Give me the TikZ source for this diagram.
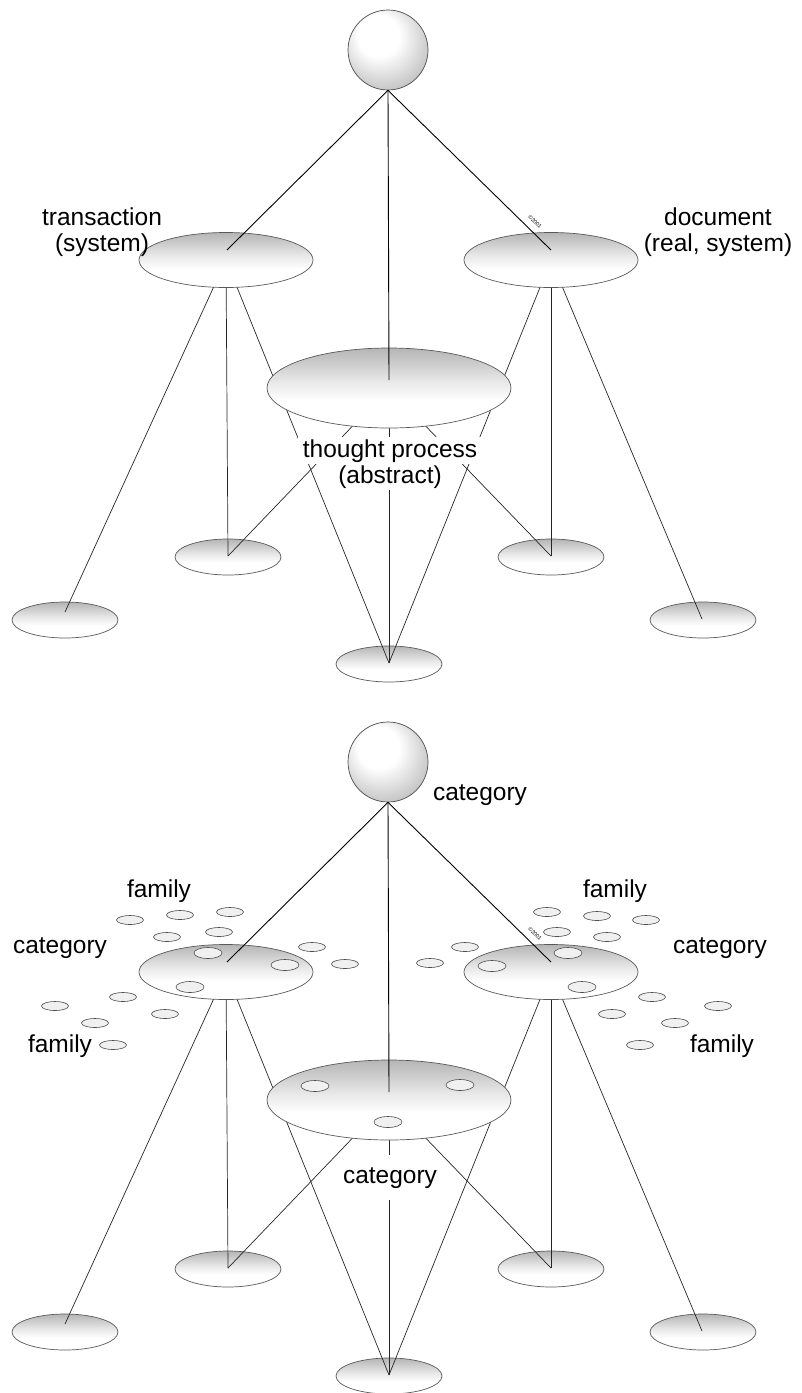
\documentclass[tikz,border=0pt]{standalone}
\usepackage{fontspec}
\setmainfont{Liberation Sans}
\usetikzlibrary{shapes.geometric}

% grey rim at the top of each disc, fading to white below the middle
\pgfdeclareverticalshading{discshade}{100bp}{color(0bp)=(white); color(25bp)=(white); color(42bp)=(white); color(54bp)=(gray!18); color(75bp)=(gray!58); color(100bp)=(gray!58)}
% sphere lit from the upper left
\pgfdeclareradialshading{sphereshade}{\pgfqpoint{-8bp}{12bp}}{color(0bp)=(white); color(13bp)=(white); color(30bp)=(gray!45); color(50bp)=(gray!55)}

\tikzset{
  disc/.style={ellipse, draw=black!65, line width=0.7pt, shading=discshade, inner sep=0pt},
  bigdisc/.style={disc, minimum width=174pt, minimum height=55pt},
  middisc/.style={disc, minimum width=244pt, minimum height=80pt},
  leaf/.style={disc, minimum width=106pt, minimum height=36pt},
  fam/.style={ellipse, draw=black!70, line width=0.6pt, fill=gray!12, inner sep=0pt, minimum width=27pt, minimum height=9pt},
  famon/.style={fam, minimum width=28pt, minimum height=11pt},
  orb/.style={circle, draw=black!70, line width=0.7pt, shading=sphereshade, minimum size=80pt, inner sep=0pt},
  stem/.style={black!85, line width=0.7pt},
  spoke/.style={black, line width=0.9pt},
  lbl/.style={font=\fontsize{24.5}{28}\selectfont, anchor=base, inner sep=0pt},
  cover/.style={lbl, fill=white, inner xsep=5pt, inner ysep=2pt},
  tiny/.style={font=\fontsize{5.5}{5.5}\selectfont, inner sep=0pt, rotate=-44.5},
}

% one complete net: leaves, stems, discs, sphere and spokes
\newcommand\netframe[2]{%
  \begin{scope}[shift={(0,#2)}]
    \node[leaf] (#1l1) at (65,620) {};
    \node[leaf] (#1l2) at (228,557) {};
    \node[leaf] (#1l3) at (389,664) {};
    \node[leaf] (#1l4) at (551,557) {};
    \node[leaf] (#1l5) at (703,620) {};
    \coordinate (#1e1) at (65,612);
    \coordinate (#1e2) at (228,556);
    \coordinate (#1e3) at (389,663);
    \coordinate (#1e4) at (551,556);
    \coordinate (#1e5) at (702,619);
    \coordinate (#1a) at (226,260);
    \coordinate (#1b) at (389,388);
    \coordinate (#1c) at (551,260);
    \draw[stem] (#1a) -- (#1e1);
    \draw[stem] (#1a) -- (#1e2);
    \draw[stem] (#1a) -- (#1e3);
    \draw[stem] (#1b) -- (#1e2);
    \draw[stem] (#1b) -- (#1e3);
    \draw[stem] (#1b) -- (#1e4);
    \draw[stem] (#1c) -- (#1e3);
    \draw[stem] (#1c) -- (#1e4);
    \draw[stem] (#1c) -- (#1e5);
    \node[bigdisc] (#1A) at (#1a) {};
    \node[middisc] (#1B) at (#1b) {};
    \node[bigdisc] (#1C) at (#1c) {};
    \node[orb] (#1top) at (388,50) {};
    \coordinate (#1p) at (227,250);
    \coordinate (#1q) at (389,380);
    \coordinate (#1r) at (551,250);
    \draw[spoke] (#1top.south) -- (#1p);
    \draw[spoke] (#1top.south) -- (#1q);
    \draw[spoke] (#1top.south) -- (#1r);
    \node[tiny] (#1copy) at (535,222) {©2001};
  \end{scope}}

\begin{document}
\begin{tikzpicture}[x=1pt, y=-1pt]
  \useasboundingbox (0,0) rectangle (801,1393);

  % ---------- upper net ----------
  \netframe{u}{0}
  \node[lbl] (utr1) at (102,225) {transaction};
  \node[lbl] (utr2) at (102,251) {(system)};
  \node[lbl] (udoc1) at (718,225) {document};
  \node[lbl] (udoc2) at (718,251) {(real, system)};
  \node[cover] (uth1) at (390,457) {thought process};
  \node[cover] (uth2) at (390,483) {(abstract)};

  % ---------- lower net ----------
  \netframe{d}{712}
  \node[lbl] (dcat0) at (480,800) {category};
  \node[lbl] (dfamL) at (159,897) {family};
  \node[lbl] (dfamR) at (615,897) {family};
  \node[lbl] (dcatL) at (60,953) {category};
  \node[lbl] (dcatR) at (720,953) {category};
  \node[lbl] (dfamLL) at (60,1052) {family};
  \node[lbl] (dfamRR) at (722,1052) {family};
  \node[cover, inner ysep=12pt] (dcatM) at (390,1183) {category};

  % families around the left disc
  \foreach \x/\y [count=\i] in {130/920, 180/915, 230/912, 167/937, 219/932, 312/947, 345/964,
      123/997, 55/1006, 165/1014, 95/1023, 113/1045}
    \node[fam] (fl\i) at (\x,\y) {};
  \foreach \x/\y [count=\i] in {208/953, 285/965, 190/987}
    \node[famon] (flo\i) at (\x,\y) {};
  % families around the right disc
  \foreach \x/\y [count=\i] in {547/912, 597/916, 646/920, 557/932, 607/937, 465/947, 430/963,
      652/997, 718/1006, 612/1014, 675/1023, 640/1045}
    \node[fam] (fr\i) at (\x,\y) {};
  \foreach \x/\y [count=\i] in {568/953, 492/966, 582/987}
    \node[famon] (fro\i) at (\x,\y) {};
  % families on the middle disc
  \foreach \x/\y [count=\i] in {315/1086, 388/1122, 460/1085}
    \node[famon] (fm\i) at (\x,\y) {};
\end{tikzpicture}
\end{document}
